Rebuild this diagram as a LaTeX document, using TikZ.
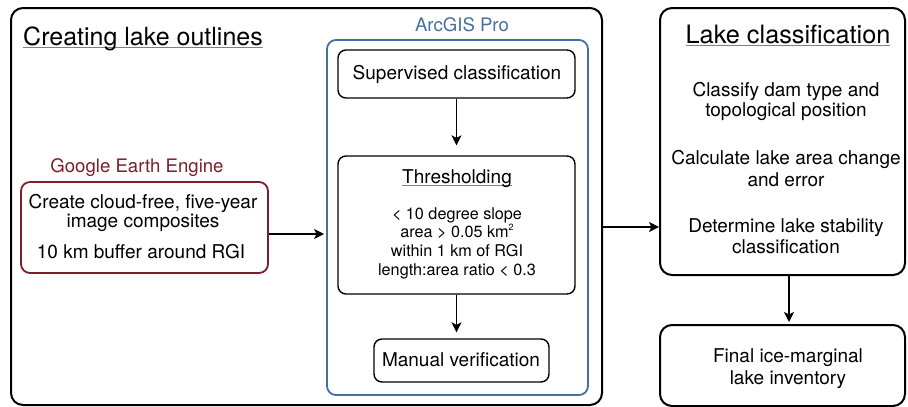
\documentclass[tikz,border=0pt]{standalone}
\usepackage{fontspec}
\setmainfont{TeX Gyre Heros}
\usetikzlibrary{arrows.meta}
\definecolor{geered}{HTML}{7A1F2B}
\definecolor{arcblue}{HTML}{44709D}
\newcommand\ulgray[1]{\setbox0\hbox{#1}\rlap{\color{gray}\rule[-2.5pt]{\wd0}{0.7pt}}\box0}
\tikzset{
  bigbox/.style={draw=black, line width=2pt, rounded corners=12pt, minimum width=#1},
  smallbox/.style={draw=black, line width=1.4pt, rounded corners=8pt},
  txt/.style={anchor=base, inner sep=0pt, font=\fontsize{19}{21}\selectfont},
  lbl/.style={anchor=base, inner sep=0pt, font=\fontsize{18.6}{21}\selectfont},
  small/.style={anchor=base, inner sep=0pt, font=\fontsize{16.2}{18}\selectfont},
  arr/.style={line width=1.3pt, -{Stealth[length=10pt,width=10pt,inset=2.5pt]}},
}
\begin{document}
\begin{tikzpicture}[x=1pt,y=-1pt]
\useasboundingbox (0,0) rectangle (908,407);
% boxes
\node (outer) [bigbox=591pt, minimum height=397pt] at (306.5,206.5) {};
\node (arc) [draw=arcblue, line width=1.8pt, rounded corners=9pt, minimum width=261pt, minimum height=355pt] at (457.5,217.5) {};
\node (sup) [smallbox, minimum width=237pt, minimum height=48pt] at (456.5,74) {};
\node (thr) [smallbox, minimum width=237pt, minimum height=138pt] at (456.5,225) {};
\node (man) [smallbox, minimum width=175pt, minimum height=43pt] at (461.5,360.5) {};
\node (gee) [draw=geered, line width=1.8pt, rounded corners=9pt, minimum width=247pt, minimum height=91pt] at (144.5,227.5) {};
\node (lc) [bigbox=245pt, minimum height=267pt] at (782.5,141.5) {};
\node (fin) [bigbox=245pt, minimum height=81pt] at (782.5,365.5) {};
% titles
\node (t1) [anchor=base west, inner sep=0pt, font=\fontsize{25}{28}\selectfont] at (23,45) {\ulgray{Creating lake outlines}};
\node (t2) [anchor=base, inner sep=0pt, font=\fontsize{25.3}{28}\selectfont] at (788,43) {\ulgray{Lake classification}};
\node (lgee) [lbl, text=geered] at (137,172) {Google Earth Engine};
\node (larc) [lbl, text=arcblue] at (462,31) {ArcGIS Pro};
% gee text
\node (g1) [txt] at (143,208) {Create cloud-free, five-year};
\node (g2) [txt] at (143,227) {image composites};
\node (g3) [txt] at (141,258) {10 km buffer around RGI};
% arcgis texts
\node (s1) [txt] at (457,79) {Supervised classification};
\node (th) [txt] at (457,183) {\ulgray{Thresholding}};
\node (c1) [small] at (457,219) {< 10 degree slope};
\node (c2) [small] at (457,237) {area > 0.05 km\raisebox{0.4em}{\fontsize{9}{9}\selectfont 2}};
\node (c3) [small] at (457,256) {within 1 km of RGI};
\node (c4) [small] at (457,275) {length:area ratio < 0.3};
\node (m1) [txt] at (461,366) {Manual verification};
% lake classification texts
\node (l1) [txt] at (786,96) {Classify dam type and};
\node (l2) [txt] at (786,116) {topological position};
\node (l3) [txt] at (786,164) {Calculate lake area change};
\node (l4) [txt] at (786,186) {and error};
\node (l5) [txt] at (786,232) {Determine lake stability};
\node (l6) [txt] at (786,253) {classification};
\node (f1) [txt] at (788,362) {Final ice-marginal};
\node (f2) [txt] at (788,384) {lake inventory};
% arrows
\draw[arr] (sup.south) -- ([yshift=10pt]thr.north);
\draw[arr] (thr.south) -- ([yshift=6pt]thr.south |- man.north);
\draw[arr] ([yshift=-6.5pt]gee.east) -- ([yshift=-6.5pt,xshift=-2pt]gee.east -| arc.west);
\draw[arr] ([yshift=-20.5pt]outer.east) -- ([yshift=-20.5pt]outer.east -| lc.west);
\draw[arr] ([xshift=6.5pt]lc.south) -- ([xshift=6.5pt,yshift=2pt]fin.north);
\end{tikzpicture}
\end{document}
